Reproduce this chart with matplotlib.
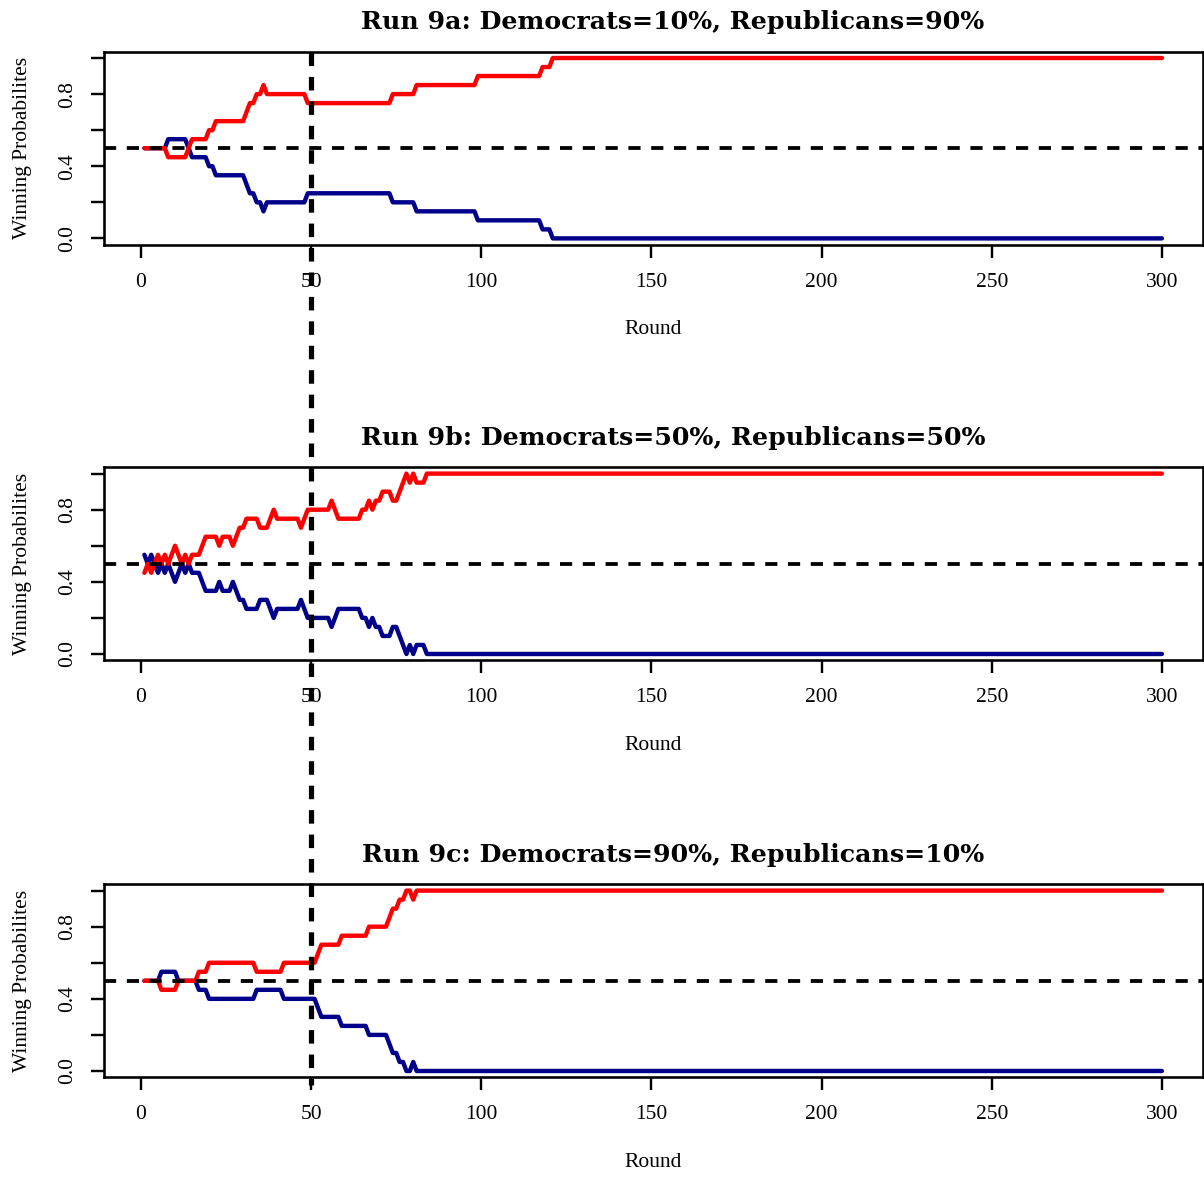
import numpy as np
import matplotlib
matplotlib.use('Agg')
import matplotlib.pyplot as plt
from matplotlib.lines import Line2D

# rounds 1..300, series stored as (level, run length)
N_ROUNDS = 300
rounds = np.arange(1, N_ROUNDS + 1)

titles = ['Run 9a: Democrats=10%, Republicans=90%',
          'Run 9b: Democrats=50%, Republicans=50%',
          'Run 9c: Democrats=90%, Republicans=10%']

red_a_levels = [.50, .45, .50, .55, .60, .65, .70, .75, .80, .85, .80, .75, .80, .85, .90, .95, 1.00]
blue_a_levels = [.50, .55, .50, .45, .40, .35, .30, .25, .20, .15, .20, .25, .20, .15, .10, .05, .00]
runs_a = [7, 6, 1, 5, 2, 9, 1, 2, 2, 1, 12, 25, 7, 18, 19, 3, 180]

red_b_levels = [.45, .50, .45, .50, .55, .50, .55, .50, .55, .60, .55, .50, .55, .50,
                .55, .60, .65, .60, .65, .60, .65, .70, .75, .70, .75, .80, .75, .70, .75, .80,
                .85, .80, .75, .80, .85, .80, .85, .90, .85, .90, .95, 1.00, .95, 1.00, .95, 1.00]
blue_b_levels = [.55, .50, .55, .50, .45, .50, .45, .50, .45, .40, .45, .50, .45, .50,
                 .45, .40, .35, .40, .35, .40, .35, .30, .25, .30, .25, .20, .25, .30, .25, .20,
                 .15, .20, .25, .20, .15, .20, .15, .10, .15, .10, .05, .00, .05, .00, .05, .00]
runs_b = [1, 1, 1, 1, 1, 1, 1, 1, 1, 1, 1, 1, 1, 1,
          3, 1, 4, 1, 3, 1, 1, 2, 4, 3, 1, 1, 7, 1, 1, 7,
          1, 1, 7, 2, 1, 1, 2, 3, 2, 1, 1, 1, 1, 1, 3, 217]

red_c_levels = [.50, .45, .50, .55, .60, .55, .60, .65, .70, .75, .80, .85, .90, .95, 1.00, .95, 1.00]
blue_c_levels = [.50, .55, .50, .45, .40, .45, .40, .35, .30, .25, .20, .15, .10, .05, .00, .05, .00]
runs_c = [5, 5, 6, 3, 14, 8, 10, 1, 6, 8, 6, 1, 2, 2, 2, 1, 220]

ref_prob = 0.5
switch_round = 50
xticks = [0, 50, 100, 150, 200, 250, 300]
yticks = [0.0, 0.2, 0.4, 0.6, 0.8, 1.0]
ytick_labels = ['0.0', '', '0.4', '', '0.8', '']

panels = [(red_a_levels, blue_a_levels, runs_a),
          (red_b_levels, blue_b_levels, runs_b),
          (red_c_levels, blue_c_levels, runs_c)]

W, H = 1204, 1178
fig = plt.figure(figsize=(W / 100, H / 100), dpi=100)
serif = ['Liberation Serif', 'DejaVu Serif']
FS = 15.5

px = 100 / 72.0  # pixels per point
ax_left, ax_right = 103.7, 1202.6
ax_tops = [51.7, 467.3, 884.3]
ax_h = 193.0
axes = []
for top, (red_lv, blue_lv, runs), title in zip(ax_tops, panels, titles):
    ax = fig.add_axes([ax_left / W, 1 - (top + ax_h) / H, (ax_right - ax_left) / W, ax_h / H])
    axes.append(ax)
    red = np.repeat(red_lv, runs)
    blue = np.repeat(blue_lv, runs)
    ax.plot(rounds, blue, color='#00008B', lw=4.4 / px, solid_capstyle='round', solid_joinstyle='round')
    ax.plot(rounds, red, color='#FF0000', lw=4.4 / px, solid_capstyle='round', solid_joinstyle='round')
    ax.axhline(ref_prob, color='black', lw=3.8 / px, dashes=(3.2, 2.8))
    ax.set_xlim(-10.96, 311.96)
    ax.set_ylim(-0.035, 1.035)
    ax.set_xticks(xticks)
    ax.set_xticklabels([str(t) for t in xticks], family=serif, fontsize=FS)
    ax.set_yticks(yticks)
    ax.set_yticklabels(ytick_labels, family=serif, fontsize=FS, rotation=90, va='center')
    ax.tick_params(axis='both', direction='out', length=13 / px, width=2.4 / px, color='black')
    ax.tick_params(axis='x', pad=15 / px)
    ax.tick_params(axis='y', pad=14 / px)
    for s in ax.spines.values():
        s.set_linewidth(2.6 / px)
    ax.set_xlabel('Round', family=serif, fontsize=FS)
    ax.xaxis.set_label_coords(0.5, -(320 - 244.3) / ax_h)
    ax.set_ylabel('Winning Probabilites', family=serif, fontsize=FS)
    ax.yaxis.set_label_coords(-(ax_left - 31.7) / (ax_right - ax_left), 0.5)
    ax.text((673 - ax_left) / (ax_right - ax_left), 1 + 22.4 / ax_h, title,
            transform=ax.transAxes, ha='center', va='baseline',
            family=['DejaVu Serif'], fontweight='bold', fontsize=18.2)

# vertical dashed line at round 50 running through all three panels
fig.canvas.draw()
x_disp = axes[0].transData.transform((switch_round, 0))[0]
x_fig = x_disp / W
vline = Line2D([x_fig, x_fig], [1 - 51.7 / H, 1 - 1085 / H], transform=fig.transFigure,
               color='black', lw=5.2 / px, dashes=(2.6, 2.1), zorder=10)
fig.add_artist(vline)

fig.savefig('out.png', dpi=100)
